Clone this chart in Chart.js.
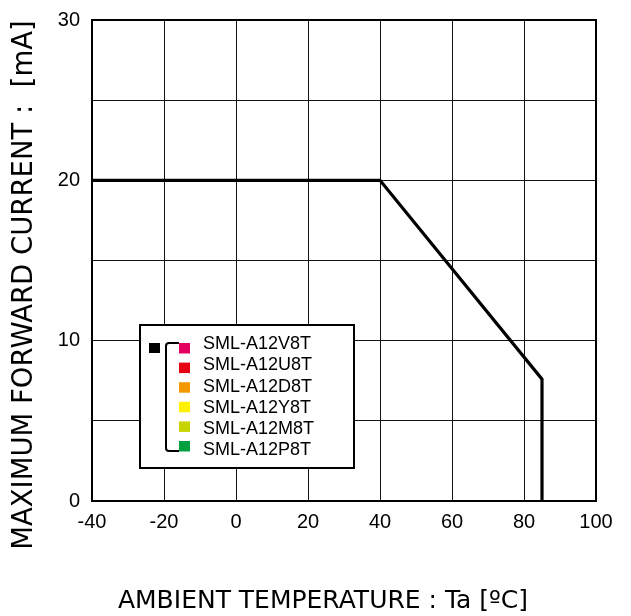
<!DOCTYPE html>
<html>
<head>
<meta charset="utf-8">
<script src="https://cdn.jsdelivr.net/npm/chart.js@4/dist/chart.umd.min.js"></script>
<style>
  html, body { margin: 0; padding: 0; background: #fff; }
  #wrap { width: 631px; height: 616px; }
</style>
</head>
<body>
<div id="wrap"><canvas id="c" width="631" height="616"></canvas></div>
<script>
// ---- data ----
const temperatures = [-40, 40, 85, 85];
const currents = [20, 20, 7.6, 0];
const xTickValues = [-40, -20, 0, 20, 40, 60, 80, 100];
const yTickLabels = [0, 10, 20, 30];
const legendLabels = ['SML-A12V8T', 'SML-A12U8T', 'SML-A12D8T', 'SML-A12Y8T', 'SML-A12M8T', 'SML-A12P8T'];
const legendColors = ['#E4005F', '#E60012', '#F39800', '#FFF100', '#C8D400', '#00A040'];
const xTitle = 'AMBIENT TEMPERATURE : Ta [\u00BAC]';
const yTitle = 'MAXIMUM FORWARD CURRENT :  [mA]';

const points = temperatures.map((t, i) => ({ x: t, y: currents[i] }));

const decorPlugin = {
  id: 'decor',
  afterDraw(chart) {
    const ctx = chart.ctx;
    const a = chart.chartArea;
    ctx.save();
    // frame
    ctx.strokeStyle = '#000';
    ctx.lineWidth = 2;
    ctx.strokeRect(a.left, a.top, a.right - a.left, a.bottom - a.top);

    // axis titles
    ctx.fillStyle = '#000';
    ctx.textAlign = 'center';
    ctx.textBaseline = 'middle';
    ctx.font = '25px "DejaVu Sans"';
    ctx.fillText(xTitle, 323, 601);
    ctx.save();
    ctx.font = '27.5px "DejaVu Sans"';
    ctx.translate(25, 285);
    ctx.rotate(-Math.PI / 2);
    ctx.fillText(yTitle, 0, 0);
    ctx.restore();

    // legend box
    const bx = 140, by = 325, bw = 214, bh = 143;
    ctx.fillStyle = '#fff';
    ctx.fillRect(bx, by, bw, bh);
    ctx.lineWidth = 2;
    ctx.strokeStyle = '#000';
    ctx.strokeRect(bx, by, bw, bh);
    // black square
    ctx.fillStyle = '#000';
    ctx.fillRect(149, 343, 11, 10);
    // bracket
    ctx.lineWidth = 2;
    ctx.beginPath();
    ctx.moveTo(179, 343);
    ctx.lineTo(169, 343);
    ctx.quadraticCurveTo(166, 343, 166, 346);
    ctx.lineTo(166, 448);
    ctx.quadraticCurveTo(166, 451, 169, 451);
    ctx.lineTo(179, 451);
    ctx.stroke();
    // coloured squares and labels
    ctx.font = '18px "Liberation Sans", Arial';
    ctx.textAlign = 'left';
    ctx.textBaseline = 'middle';
    legendLabels.forEach((lab, i) => {
      ctx.fillStyle = legendColors[i];
      ctx.fillRect(179, 343 + i * 19.6, 11, 10.5);
      ctx.fillStyle = '#000';
      ctx.fillText(lab, 203, 344 + i * 21.3);
    });
    ctx.restore();
  }
};

new Chart(document.getElementById('c'), {
  type: 'line',
  data: {
    datasets: [{
      data: points,
      borderColor: '#000',
      borderWidth: 3.2,
      pointRadius: 0,
      tension: 0,
      fill: false
    }]
  },
  options: {
    responsive: false,
    animation: false,
    layout: { padding: { left: 0, top: 20, right: 35, bottom: 0 } },
    plugins: { legend: { display: false }, tooltip: { enabled: false } },
    scales: {
      x: {
        type: 'linear',
        min: xTickValues[0],
        max: xTickValues[xTickValues.length - 1],
        afterBuildTicks(scale) { scale.ticks = xTickValues.map(v => ({ value: v })); },
        afterFit(scale) { scale.height = 115; scale.paddingLeft = 0; scale.paddingRight = 0; },
        ticks: {
          color: '#000',
          font: { family: '"Liberation Sans", Arial', size: 20 },
          padding: 9,
          maxRotation: 0,
          callback: v => String(v)
        },
        grid: { color: '#111', lineWidth: 1, drawTicks: false },
        border: { color: '#000', width: 2 }
      },
      y: {
        type: 'linear',
        min: 0,
        max: 30,
        ticks: {
          stepSize: 5,
          color: '#000',
          font: { family: '"Liberation Sans", Arial', size: 20 },
          padding: 12,
          callback: v => (yTickLabels.includes(v) ? String(v) : '')
        },
        afterFit(scale) { scale.width = 92; scale.paddingTop = 0; scale.paddingBottom = 0; },
        grid: { color: '#111', lineWidth: 1, drawTicks: false },
        border: { color: '#000', width: 2 }
      }
    }
  },
  plugins: [decorPlugin]
});
</script>
</body>
</html>
